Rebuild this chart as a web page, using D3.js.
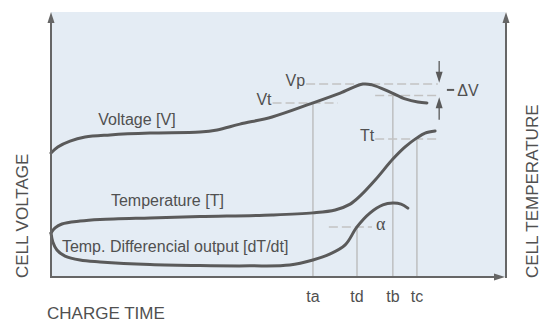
<!DOCTYPE html>
<html>
<head>
<meta charset="utf-8">
<script src="https://cdn.jsdelivr.net/npm/d3@7"></script>
<style>
  body { margin: 0; background: #fff; }
  svg text { font-family: "Liberation Sans", Arial, sans-serif; fill: #505050; }
</style>
</head>
<body>
<script>
// curves: [time, level] on a 0..100 grid
let voltage = [[0, 46.8], [1.5, 49.1], [4.2, 51.3], [7.5, 52.8], [13, 53.6], [21.8, 54.3], [32.8, 54.7],
  [36.6, 55.5], [41.6, 57.7], [48.7, 60.4], [57.7, 65.7], [63.7, 69.4], [68.7, 72.8], [70.7, 72.5],
  [74.7, 69.8], [78, 67.2], [80.8, 66], [82.8, 65.7]]
let temperature = [[0, 16.6], [0.9, 18.5], [2.4, 20], [6.4, 21.1], [10.8, 21.7], [21.8, 22.3], [32.8, 22.8],
  [48.7, 23.4], [57.7, 24.2], [62.6, 25.3], [65.9, 27.5], [68.1, 30.6], [71.4, 36.6], [75.3, 44.5],
  [78, 49.1], [80.6, 52.5], [82.4, 54.3], [84.6, 55.1]]
let dTdt = [[0, 16.6], [0.4, 13.2], [1.3, 10.2], [3.1, 7.9], [6.4, 6.4], [10.8, 5.7], [21.8, 4.7], [32.8, 4.3],
  [43.8, 4.2], [52.6, 4.5], [57.7, 6.4], [61.5, 8.7], [64.8, 12.1], [67.4, 18.9], [70.3, 24.2],
  [73.1, 27.2], [75.3, 27.9], [77.1, 27.5], [78.6, 26]]

// marker times and levels
let times = [{l: 'ta', t: 57.7, top: 65.7}, {l: 'td', t: 67.4, top: 18.9}, {l: 'tb', t: 75.3, top: 68.5}, {l: 'tc', t: 80.6, top: 52.1}]
let levels = [
  {l: 'Vt', v: 65.7, t0: 48.8, t1: 63.2},
  {l: 'Vp', v: 72.8, t0: 56.2, t1: 85.2},
  {l: '', v: 68.5, t0: 71.4, t1: 85.2},
  {l: 'Tt', v: 52.1, t0: 71.4, t1: 85.2},
  {l: '', v: 18.9, t0: 61.2, t1: 70.7}
]
let curveLabels = [
  {l: 'Voltage [V]', t: 10.4, v: 57.4},
  {l: 'Temperature [T]', t: 13.2, v: 26.8},
  {l: 'Temp. Differencial output [dT/dt]', t: 2.4, v: 9.4}
]

let W = 544, H = 329
let svg = d3.select('body').append('svg').attr('width', W).attr('height', H)

let x = d3.scaleLinear().domain([0, 100]).range([51, 505])
let y = d3.scaleLinear().domain([0, 100]).range([277, 12])

let ink = '#5a5a5a'
let dash = '#c2c2c2'

svg.append('rect').attr('x', x(0)).attr('y', y(100)).attr('width', x(100) - x(0)).attr('height', y(0) - y(100))
  .attr('fill', '#e4ecf4')

// vertical time markers
svg.append('g').selectAll('line').data(times).enter().append('line')
  .attr('x1', function (d) { return x(d.t) }).attr('x2', function (d) { return x(d.t) })
  .attr('y1', y(0)).attr('y2', function (d) { return y(d.top) })
  .attr('stroke', '#b8b8b8').attr('stroke-width', 1.3)

// dashed level lines
svg.append('g').selectAll('line').data(levels).enter().append('line')
  .attr('x1', function (d) { return x(d.t0) }).attr('x2', function (d) { return x(d.t1) })
  .attr('y1', function (d) { return y(d.v) }).attr('y2', function (d) { return y(d.v) })
  .attr('stroke', dash).attr('stroke-width', 1.5).attr('stroke-dasharray', '9,4')

let line = d3.line().x(function (d) { return x(d[0]) }).y(function (d) { return y(d[1]) })
  .curve(d3.curveCatmullRom.alpha(0.5))

svg.append('g').selectAll('path').data([voltage, temperature, dTdt]).enter().append('path')
  .attr('d', line).attr('fill', 'none').attr('stroke', ink).attr('stroke-width', 3)
  .attr('stroke-linecap', 'round')

// axes
let ax = svg.append('g').attr('stroke', '#666').attr('stroke-width', 2)
ax.append('line').attr('x1', x(0)).attr('x2', x(0)).attr('y1', y(0) + 1).attr('y2', y(100) + 8)
ax.append('line').attr('x1', x(100) + 1).attr('x2', x(100) + 1).attr('y1', y(0) + 1).attr('y2', y(100) + 8)
ax.append('line').attr('x1', x(0)).attr('x2', x(100) - 8).attr('y1', y(0)).attr('y2', y(0))
let head = function (px, py, dir) {
  let p = dir == 'up' ? [[px, py], [px - 3.5, py + 11], [px + 3.5, py + 11]]
    : dir == 'down' ? [[px, py], [px - 3.5, py - 11], [px + 3.5, py - 11]]
    : [[px, py], [px - 11, py - 3.5], [px - 11, py + 3.5]]
  return 'M' + p.join('L') + 'Z'
}
svg.append('path').attr('d', head(x(0), y(100), 'up')).attr('fill', '#666')
svg.append('path').attr('d', head(x(100) + 1, y(100), 'up')).attr('fill', '#666')
svg.append('path').attr('d', head(x(100), y(0), 'right')).attr('fill', '#666')

// delta V arrows
let ga = svg.append('g')
let xa = x(85.5)
ga.append('line').attr('x1', xa).attr('x2', xa).attr('y1', y(81.5)).attr('y2', y(74.5)).attr('stroke', ink).attr('stroke-width', 1.3)
ga.append('path').attr('d', head(xa, y(73.3), 'down')).attr('fill', ink)
ga.append('line').attr('x1', xa).attr('x2', xa).attr('y1', y(59.3)).attr('y2', y(66)).attr('stroke', ink).attr('stroke-width', 1.3)
ga.append('path').attr('d', head(xa, y(67.8), 'up')).attr('fill', ink)
ga.append('line').attr('x1', x(87.2)).attr('x2', x(88.8)).attr('y1', y(70.6)).attr('y2', y(70.6)).attr('stroke', ink).attr('stroke-width', 2)
svg.append('text').attr('x', x(89.5)).attr('y', y(70.6) + 6).attr('font-size', 16).text('ΔV')

// level labels
svg.append('g').selectAll('text').data(levels.filter(function (d) { return d.l })).enter().append('text')
  .attr('x', function (d) { return x(d.t0) - 1 }).attr('y', function (d) { return y(d.v) + 2 })
  .attr('text-anchor', 'end').attr('font-size', 16).text(function (d) { return d.l })
svg.append('text').attr('x', x(71.6)).attr('y', y(18.9) + 3).attr('font-size', 18)
  .style('font-family', '"Liberation Serif", "DejaVu Serif", serif').text('α')

// curve labels
svg.append('g').selectAll('text').data(curveLabels).enter().append('text')
  .attr('x', function (d) { return x(d.t) }).attr('y', function (d) { return y(d.v) })
  .attr('font-size', 16).text(function (d) { return d.l })

// time tick labels
svg.append('g').selectAll('text').data(times).enter().append('text')
  .attr('x', function (d) { return x(d.t) }).attr('y', 302)
  .attr('text-anchor', 'middle').attr('font-size', 16).text(function (d) { return d.l })

// axis titles
svg.append('text').attr('x', 47).attr('y', 319).attr('font-size', 17).text('CHARGE TIME')
svg.append('text').attr('transform', 'translate(28,278) rotate(-90)').attr('font-size', 17).text('CELL VOLTAGE')
svg.append('text').attr('transform', 'translate(538,278) rotate(-90)').attr('font-size', 17).text('CELL TEMPERATURE')
</script>
</body>
</html>
